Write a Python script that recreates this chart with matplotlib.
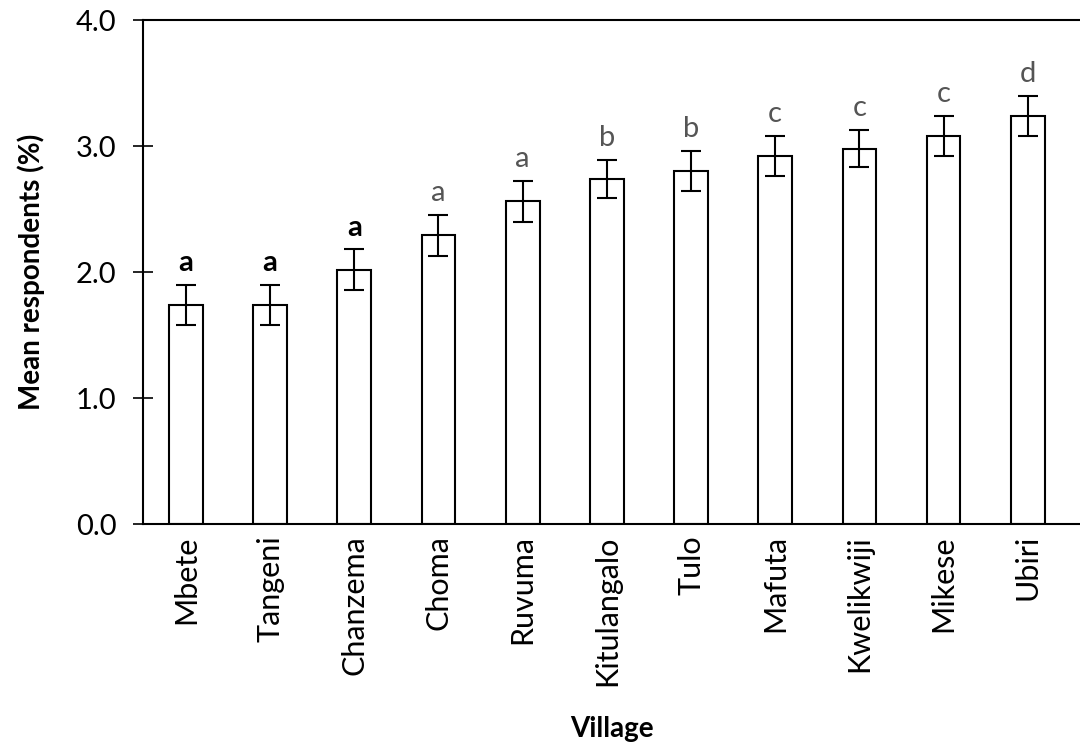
import matplotlib
matplotlib.use("Agg")
import matplotlib.pyplot as plt

plt.rcParams['font.family'] = ['Lato', 'DejaVu Sans']

# Data
villages = ['Mbete', 'Tangeni', 'Chanzema', 'Choma', 'Ruvuma', 'Kitulangalo',
            'Tulo', 'Mafuta', 'Kwelikwiji', 'Mikese', 'Ubiri']
means = [1.74, 1.74, 2.02, 2.29, 2.56, 2.74, 2.80, 2.92, 2.98, 3.08, 3.24]
errors = [0.16, 0.16, 0.16, 0.16, 0.16, 0.15, 0.16, 0.16, 0.15, 0.16, 0.16]
letters = ['a', 'a', 'a', 'a', 'a', 'b', 'b', 'c', 'c', 'c', 'd']
letter_bold = [True, True, True, False, False, False, False, False, False, False, False]

fig = plt.figure(figsize=(10.8, 7.47), dpi=100)
ax = fig.add_axes([0.1324, 0.2985, 0.8676, 0.6747])

x = list(range(len(villages)))
ax.bar(x, means, width=0.4, color='white', edgecolor='black', linewidth=1.5,
       yerr=errors, capsize=7, error_kw=dict(elinewidth=1.5, capthick=1.5, ecolor='black'))

for xi, m, e, lab, b in zip(x, means, errors, letters, letter_bold):
    ax.text(xi, m + e + 0.07, lab, ha='center', va='bottom', fontsize=21,
            color='black' if b else '#555555', fontweight='bold' if b else 'normal')

ax.set_xlim(-0.51, 10.62)
ax.set_ylim(0, 4.0)
ax.set_yticks([0, 1, 2, 3, 4])
ax.set_yticklabels(['0.0', '1.0', '2.0', '3.0', '4.0'])
ax.set_xticks(x)
ax.set_xticklabels(villages, rotation=90)

ax.spines['right'].set_visible(False)
for s in ['left', 'bottom', 'top']:
    ax.spines[s].set_linewidth(1.5)
ax.tick_params(axis='y', direction='inout', length=14, width=1.2, labelsize=21, pad=12)
ax.tick_params(axis='x', length=0, labelsize=22, pad=8)

ax.set_ylabel('Mean respondents (%)', fontsize=20, fontweight='bold', labelpad=22)
ax.set_xlabel('Village', fontsize=20, fontweight='bold', labelpad=22)

fig.savefig('out.png', dpi=100)
